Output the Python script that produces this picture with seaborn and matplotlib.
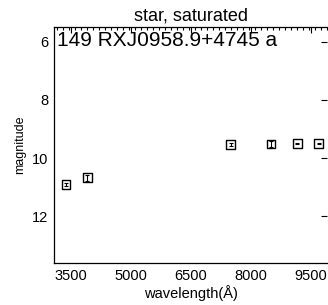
import matplotlib
matplotlib.use("Agg")
import matplotlib.pyplot as plt
from matplotlib.ticker import MultipleLocator
import seaborn as sns
import pandas as pd

wavelength = [3380, 3910, 7490, 8500, 9160, 9690]
magnitude = [10.91, 10.67, 9.54, 9.52, 9.50, 9.50]
mag_err = [0.05, 0.10, 0.05, 0.10, 0.03, 0.03]
x_ticks = [3500, 5000, 6500, 8000, 9500]
y_ticks = [6, 8, 10, 12]
title = "star, saturated"
label = "149 RXJ0958.9+4745 a"

sns.set_style("white")
plt.rcParams['font.family'] = ['Liberation Sans', 'DejaVu Sans']
plt.rcParams['text.color'] = 'black'
plt.rcParams['axes.labelcolor'] = 'black'

df = pd.DataFrame({"wavelength": wavelength, "magnitude": magnitude, "err": mag_err})

fig = plt.figure(figsize=(3.28, 3.05), dpi=100)
ax = fig.add_axes([0.1646, 0.1377, 0.8324, 0.7738])

ax.errorbar(df["wavelength"], df["magnitude"], yerr=df["err"], fmt="none",
            ecolor="black", elinewidth=0.8, capsize=1.5, capthick=0.8, zorder=2)
sns.scatterplot(data=df, x="wavelength", y="magnitude", ax=ax, marker="s",
                s=38, facecolor="none", edgecolor="black", linewidth=1.0, zorder=3)

ax.set_xlim(3075, 9900)
ax.set_ylim(13.6, 5.5)
ax.set_xticks(x_ticks)
ax.set_yticks(y_ticks)
ax.xaxis.set_minor_locator(MultipleLocator(150))
ax.yaxis.set_minor_locator(MultipleLocator(0.5))
ax.tick_params(which="both", direction="in", top=True, right=True, colors="black",
               labelsize=10.5, width=0.8)
ax.tick_params(which="major", length=4.3, pad=4)
ax.tick_params(which="minor", length=2.2)
ax.tick_params(axis="y", which="minor", right=False)
for s in ax.spines.values():
    s.set_color("black")
    s.set_linewidth(0.9)
ax.spines["right"].set_visible(False)

ax.set_xlabel("wavelength(Å)", fontsize=10.5, labelpad=1.5, color="black")
ax.set_ylabel("magnitude", fontsize=9, labelpad=4, color="black")
ax.set_title(title, fontsize=13, pad=5, color="black")
ax.text(0.012, 0.985, label, transform=ax.transAxes, fontsize=15,
        ha="left", va="top", color="black")

fig.savefig("out.png", dpi=100)
